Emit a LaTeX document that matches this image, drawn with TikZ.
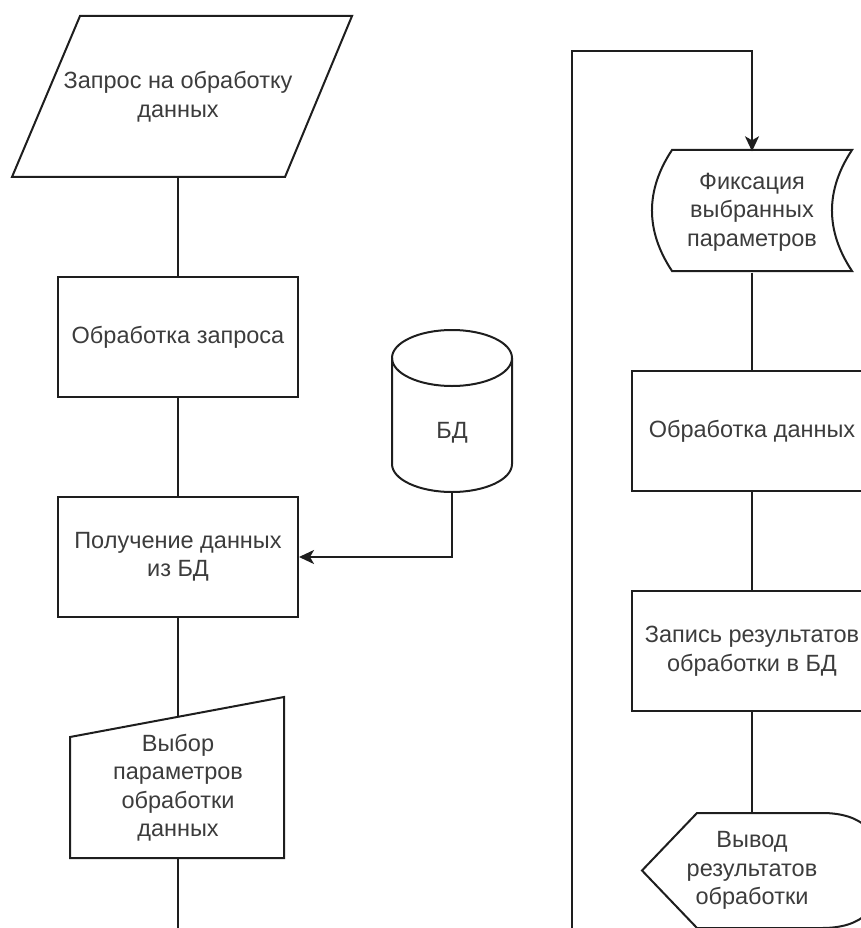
\documentclass[tikz,border=0pt]{standalone}
\usepackage{fontspec}
\setmainfont{Liberation Sans}
\usetikzlibrary{arrows.meta}
\definecolor{ink}{RGB}{30,30,30}
\definecolor{txt}{RGB}{60,60,60}

\begin{document}
\begin{tikzpicture}[x=1pt,y=-1pt,
  outline/.style={draw=ink, line width=2pt, line join=miter},
  link/.style={draw=ink, line width=2pt},
  arrowlink/.style={link, -{Stealth[length=15pt,width=14pt,inset=4pt]}},
  txtstyle/.style={font=\fontsize{23.5}{28.5}\selectfont, text=txt, align=center, inner sep=0pt},
  box/.style={txtstyle, outline, minimum width=240pt, minimum height=120pt},
  slot/.style={txtstyle, minimum height=#1},
]
\useasboundingbox (0,0) rectangle (861,928);
\clip (0,0) rectangle (861,928);

% ---- left column ----
\node[slot=161pt] (req) at (178,96.5) {Запрос на обработку\\данных};
\draw[outline] (80,16) -- (352,16) -- (285,177) -- (12,177) -- cycle;

\node[box] (proc) at (178,337) {Обработка запроса};
\node[box] (get) at (178,557) {Получение данных\\из БД};

\node[slot=141pt] (sel) at (178,787.5) {Выбор\\параметров\\обработки\\данных};
\draw[outline] (70,737) -- (284,697) -- (284,858) -- (70,858) -- cycle;

% database cylinder
\node[minimum width=120pt, minimum height=162pt, inner sep=0pt] (db) at (452,411) {};
\draw[outline] (392,358) -- (392,464)
  arc[start angle=180, end angle=360, x radius=60pt, y radius=28pt] -- (512,358);
\draw[outline] (452,358) ellipse [x radius=60pt, y radius=28pt];
\node[txtstyle] (dbtext) at (452,433) {БД};

% ---- right column ----
\node[slot=121pt] (fix) at (752,212) {Фиксация\\выбранных\\параметров};
\draw[outline] (672,150) -- (852,150)
  .. controls (825.3,190.3) and (825.3,230.7) .. (852,271) -- (672,271)
  .. controls (645.3,230.7) and (645.3,190.3) .. (672,150) -- cycle;

\node[box] (dp) at (752,431) {Обработка данных};
\node[box] (wr) at (752,651) {Запись результатов\\обработки в БД};

\node[slot=115pt] (out) at (752,870.5) {Вывод\\результатов\\обработки};
\draw[outline] (642,870.5) -- (697,813) -- (822,813)
  .. controls (862,813) and (882,832.2) .. (882,870.5)
  .. controls (882,908.8) and (862,928) .. (822,928) -- (697,928) -- cycle;

% ---- connectors ----
\coordinate (leftend) at (178,940);
\coordinate (loopstart) at (572,940);
\coordinate (loopturn) at (572,51);

\draw[link] (req.south) -- (proc.north);
\draw[link] (proc.south) -- (get.north);
\draw[link] (get.south) -- (sel.north);
\draw[link] (sel.south) -- (leftend);
\draw[arrowlink] (db.south) |- (get.east);

\draw[arrowlink] (loopstart) -- (loopturn) -| (fix.north);
\draw[link] (fix.south) -- (dp.north);
\draw[link] (dp.south) -- (wr.north);
\draw[link] (wr.south) -- (out.north);
\end{tikzpicture}
\end{document}
